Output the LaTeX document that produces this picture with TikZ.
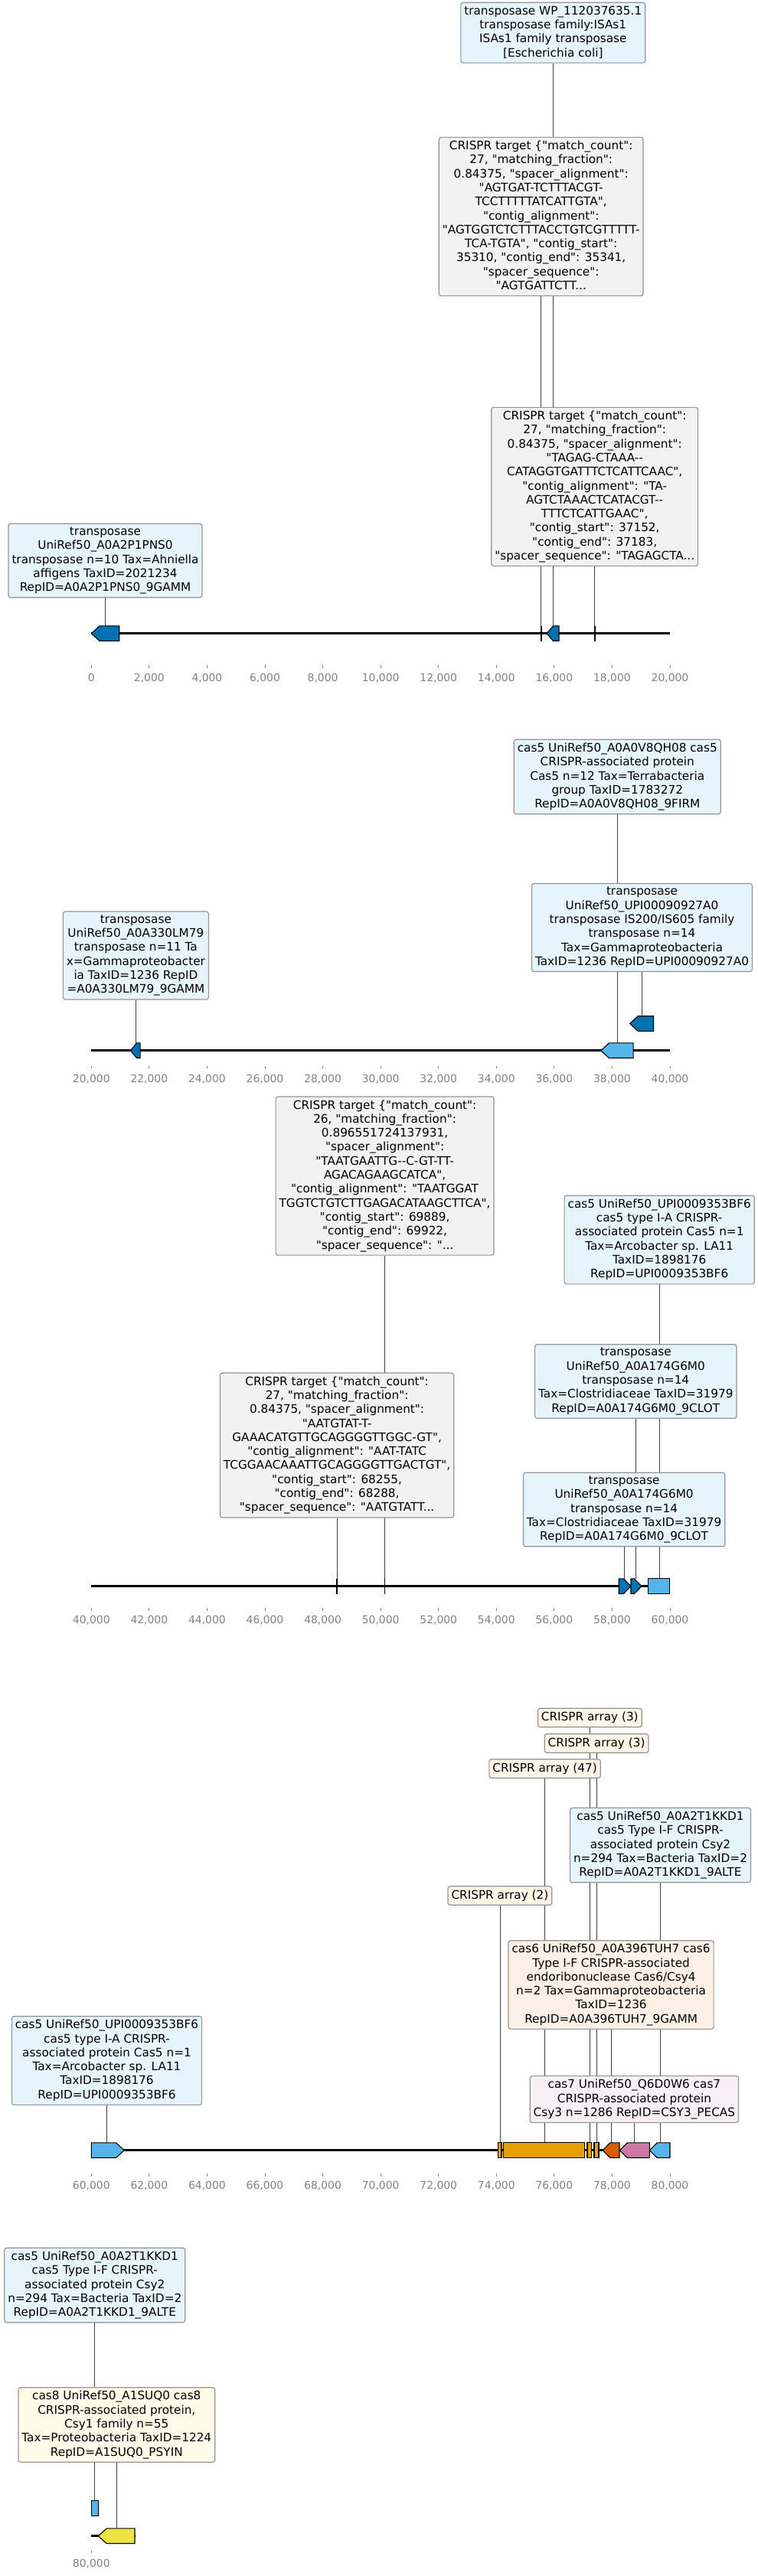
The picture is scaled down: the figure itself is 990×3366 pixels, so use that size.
\documentclass[tikz,border=0pt]{standalone}
\usepackage{fontspec}
\setmainfont{DejaVu Sans}[Ligatures=TeXOff]
\pgfdeclarelayer{bg}
\pgfsetlayers{bg,main}
\definecolor{dkblue}{HTML}{0072B2}
\definecolor{ltblue}{HTML}{56B4E9}
\definecolor{orng}{HTML}{E69F00}
\definecolor{vermil}{HTML}{D55E00}
\definecolor{rpink}{HTML}{CC79A7}
\definecolor{ylw}{HTML}{F0E442}
\definecolor{bxblue}{HTML}{E6F4FC}
\definecolor{bxgray}{HTML}{F2F2F2}
\definecolor{bxcream}{HTML}{FDF5E5}
\definecolor{bxpeach}{HTML}{FDF0E6}
\definecolor{bxpink}{HTML}{F9F0F5}
\definecolor{bxyel}{HTML}{FDFCE8}
\definecolor{tickgray}{HTML}{808080}
\newcommand\lblfont{\fontsize{15.28}{18.3}\selectfont}
\newcommand\tckfont{\fontsize{13.9}{16}\selectfont}
\newcommand\lblstrut{\vrule width 0pt height 11.9pt depth 3.6pt\relax}
\tikzset{
  box/.style={draw=black!42, line width=1.2pt, rounded corners=3pt, align=center,
    inner xsep=4.5pt, inner ysep=4.5pt, font=\lblfont,
    execute at begin node=\lblstrut, execute at end node=\lblstrut},
  conn/.style={draw=black!75, line width=0.8pt},
  feat/.style={draw=black, line width=1.1pt, line join=miter},
  axisline/.style={draw=black, line width=2.5pt},
  crt/.style={draw=black, line width=1.6pt},
  tck/.style={draw=tickgray, line width=0.8pt},
  ticklab/.style={font=\tckfont, text=tickgray, text height=10.1pt, text depth=0pt, inner sep=0pt}
}
\newcommand\LArr[5]{\draw[feat,fill=#5] (#1,#3) -- (#1+#4,#3-9.8) -- (#2,#3-9.8) -- (#2,#3+9.8) -- (#1+#4,#3+9.8) -- cycle;}
\newcommand\RArr[5]{\draw[feat,fill=#5] (#2,#3) -- (#2-#4,#3-9.8) -- (#1,#3-9.8) -- (#1,#3+9.8) -- (#2-#4,#3+9.8) -- cycle;}
\newcommand\FRect[4]{\draw[feat,fill=#4] (#1,#3-9.8) rectangle (#2,#3+9.8);}
\newcommand\AxisTicks[4]{% tick y, label y, base thousands, name prefix
  \foreach \i in {0,...,10}{%
    \pgfmathtruncatemacro\th{#3+2*\i}%
    \draw[tck] (119.3+75.57*\i,#1) -- ++(0,3.5);
    \node[ticklab] (#4\i) at (119.3+75.57*\i,#2) {\ifnum\th=0 0\else\th,000\fi};
  }}
\begin{document}
\begin{tikzpicture}[x=1pt,y=-1pt]
\useasboundingbox (0,0) rectangle (990,3366);

% ================= Panel 1 =================
\draw[axisline] (119.3,827.7) -- (875,827.7);
\LArr{119.3}{155.7}{827.7}{10.7}{dkblue}
\LArr{714}{730}{827.7}{8.5}{dkblue}
\draw[crt] (706.7,817.9) -- (706.7,837.5);
\draw[crt] (776.7,817.9) -- (776.7,837.5);
\coordinate (fA4) at (137.5,818);
\coordinate (fA1) at (722.3,818);
\coordinate (fA2) at (706.7,818);
\coordinate (fA3) at (776.7,818);
\AxisTicks{869}{885}{0}{ta}

\node[box,fill=bxblue] (A1) at (722.3,42.7) {transposase WP\_112037635.1\\transposase family:ISAs1\\ISAs1 family transposase\\{}[Escherichia coli]};
\node[box,fill=bxgray] (A2) at (706.7,283) {CRISPR target \{"match\_count":\\27, "matching\_fraction":\\0.84375, "spacer\_alignment":\\"AGTGAT-TCTTTACGT-\\TCCTTTTTATCATTGTA",\\"contig\_alignment":\\"AGTGGTCTCTTTACCTGTCGTTTTT-\\TCA-TGTA", "contig\_start":\\35310, "contig\_end": 35341,\\"spacer\_sequence":\\"AGTGATTCTT...};
\node[box,fill=bxgray] (A3) at (776.7,636) {CRISPR target \{"match\_count":\\27, "matching\_fraction":\\0.84375, "spacer\_alignment":\\"TAGAG-CTAAA--\\CATAGGTGATTTCTCATTCAAC",\\"contig\_alignment": "TA-\\AGTCTAAACTCATACGT--\\TTTCTCATTGAAC",\\"contig\_start": 37152,\\"contig\_end": 37183,\\"spacer\_sequence": "TAGAGCTA...};
\node[box,fill=bxblue] (A4) at (137.5,732.5) {transposase\\UniRef50\_A0A2P1PNS0\\transposase n=10 Tax=Ahniella\\affigens TaxID=2021234\\RepID=A0A2P1PNS0\_9GAMM};

% ================= Panel 2 =================
\draw[axisline] (119.3,1372.7) -- (875,1372.7);
\LArr{170.5}{183.1}{1372.7}{8}{dkblue}
\LArr{784.8}{827.1}{1372.7}{10.7}{ltblue}
\LArr{822.7}{853.6}{1337.5}{10.5}{dkblue}
\coordinate (fB3) at (177.4,1363);
\coordinate (fB1) at (806.3,1363);
\coordinate (fB2) at (838.5,1328);
\AxisTicks{1392.7}{1409.3}{20}{tb}

\node[box,fill=bxblue] (B1) at (806.3,1015) {cas5 UniRef50\_A0A0V8QH08 cas5\\CRISPR-associated protein\\Cas5 n=12 Tax=Terrabacteria\\group TaxID=1783272\\RepID=A0A0V8QH08\_9FIRM};
\node[box,fill=bxblue] (B2) at (838.5,1212) {transposase\\UniRef50\_UPI00090927A0\\transposase IS200/IS605 family\\transposase n=14\\Tax=Gammaproteobacteria\\TaxID=1236 RepID=UPI00090927A0};
\node[box,fill=bxblue] (B3) at (177.4,1248.5) {transposase\\UniRef50\_A0A330LM79\\transposase n=11 Ta\\x=Gammaproteobacter\\ia TaxID=1236 RepID\\=A0A330LM79\_9GAMM};

% ================= Panel 3 =================
\draw[axisline] (119.3,2072.7) -- (875,2072.7);
\RArr{808.2}{824}{2072.7}{9.5}{dkblue}
\RArr{824}{837.9}{2072.7}{9.5}{dkblue}
\FRect{846.7}{874.5}{2072.7}{ltblue}
\draw[crt] (440.1,2062.9) -- (440.1,2082.5);
\draw[crt] (502.6,2062.9) -- (502.6,2082.5);
\coordinate (fC5) at (815.1,2063);
\coordinate (fC3) at (830.3,2063);
\coordinate (fC2) at (861.2,2063);
\coordinate (fC4) at (440.1,2063);
\coordinate (fC1) at (502.6,2063);
\AxisTicks{2101}{2116.7}{40}{tc}

\node[box,fill=bxgray] (C1) at (502.6,1536.5) {CRISPR target \{"match\_count":\\26, "matching\_fraction":\\0.896551724137931,\\"spacer\_alignment":\\"TAATGAATTG--C-GT-TT-\\AGACAGAAGCATCA",\\"contig\_alignment": "TAATGGAT\\TGGTCTGTCTTGAGACATAAGCTTCA",\\"contig\_start": 69889,\\"contig\_end": 69922,\\"spacer\_sequence": "...};
\node[box,fill=bxblue] (C2) at (861.2,1620) {cas5 UniRef50\_UPI0009353BF6\\cas5 type I-A CRISPR-\\associated protein Cas5 n=1\\Tax=Arcobacter sp. LA11\\TaxID=1898176\\RepID=UPI0009353BF6};
\node[box,fill=bxblue] (C3) at (830.3,1805) {transposase\\UniRef50\_A0A174G6M0\\transposase n=14\\Tax=Clostridiaceae TaxID=31979\\RepID=A0A174G6M0\_9CLOT};
\node[box,fill=bxgray] (C4) at (440.1,1888.5) {CRISPR target \{"match\_count":\\27, "matching\_fraction":\\0.84375, "spacer\_alignment":\\"AATGTAT-T-\\GAAACATGTTGCAGGGGTTGGC-GT",\\"contig\_alignment": "AAT-TATC\\TCGGAACAAATTGCAGGGGTTGACTGT",\\"contig\_start": 68255,\\"contig\_end": 68288,\\"spacer\_sequence": "AATGTATT...};
\node[box,fill=bxblue] (C5) at (815.1,1972.5) {transposase\\UniRef50\_A0A174G6M0\\transposase n=14\\Tax=Clostridiaceae TaxID=31979\\RepID=A0A174G6M0\_9CLOT};

% ================= Panel 4 =================
\draw[axisline] (119.3,2809.7) -- (875,2809.7);
\RArr{119.3}{162.3}{2809.7}{10.7}{ltblue}
\FRect{650.7}{655}{2809.7}{orng}
\FRect{657.7}{763.7}{2809.7}{orng}
\FRect{767}{772.7}{2809.7}{orng}
\FRect{776}{782}{2809.7}{orng}
\LArr{787.3}{809}{2809.7}{9.4}{vermil}
\LArr{809.3}{848.3}{2809.7}{10}{rpink}
\LArr{848.3}{875}{2809.7}{10}{ltblue}
\coordinate (fD8) at (139.5,2800);
\coordinate (fD5) at (652.9,2800);
\coordinate (fD3) at (711.6,2800);
\coordinate (fD1) at (770.3,2800);
\coordinate (fD2) at (779.1,2800);
\coordinate (fD6) at (798.1,2800);
\coordinate (fD7) at (828.4,2800);
\coordinate (fD4) at (862.5,2800);
\AxisTicks{2840}{2855}{60}{td}

\node[box,fill=bxcream] (D1) at (770.3,2244.5) {CRISPR array (3)};
\node[box,fill=bxcream] (D2) at (779.1,2278) {CRISPR array (3)};
\node[box,fill=bxcream] (D3) at (711.6,2311) {CRISPR array (47)};
\node[box,fill=bxblue] (D4) at (862.5,2411) {cas5 UniRef50\_A0A2T1KKD1\\cas5 Type I-F CRISPR-\\associated protein Csy2\\n=294 Tax=Bacteria TaxID=2\\RepID=A0A2T1KKD1\_9ALTE};
\node[box,fill=bxcream] (D5) at (652.9,2477) {CRISPR array (2)};
\node[box,fill=bxpeach] (D6) at (798.1,2593.5) {cas6 UniRef50\_A0A396TUH7 cas6\\Type I-F CRISPR-associated\\endoribonuclease Cas6/Csy4\\n=2 Tax=Gammaproteobacteria\\TaxID=1236\\RepID=A0A396TUH7\_9GAMM};
\node[box,fill=bxpink] (D7) at (828.4,2743) {cas7 UniRef50\_Q6D0W6 cas7\\CRISPR-associated protein\\Csy3 n=1286 RepID=CSY3\_PECAS};
\node[box,fill=bxblue] (D8) at (139.5,2692.5) {cas5 UniRef50\_UPI0009353BF6\\cas5 type I-A CRISPR-\\associated protein Cas5 n=1\\Tax=Arcobacter sp. LA11\\TaxID=1898176\\RepID=UPI0009353BF6};

% ================= Panel 5 =================
\draw[axisline] (119.3,3313.7) -- (177,3313.7);
\FRect{119.3}{128.3}{3277.3}{ltblue}
\LArr{128.3}{176}{3313.7}{11}{ylw}
\coordinate (fE1) at (123.8,3267.5);
\coordinate (fE2) at (152.3,3304);
\draw[tck] (119.3,3332.7) -- ++(0,3.5);
\node[ticklab] (te0) at (119.3,3349) {80,000};

\node[box,fill=bxblue] (E1) at (123.8,2986) {cas5 UniRef50\_A0A2T1KKD1\\cas5 Type I-F CRISPR-\\associated protein Csy2\\n=294 Tax=Bacteria TaxID=2\\RepID=A0A2T1KKD1\_9ALTE};
\node[box,fill=bxyel] (E2) at (152.3,3168.5) {cas8 UniRef50\_A1SUQ0 cas8\\CRISPR-associated protein,\\Csy1 family n=55\\Tax=Proteobacteria TaxID=1224\\RepID=A1SUQ0\_PSYIN};

% ================= connectors =================
\begin{pgfonlayer}{bg}
\foreach \n in {A1,A2,A3,A4,B1,B2,B3,C1,C2,C3,C4,C5,D1,D2,D3,D4,D5,D6,D7,D8,E1,E2}
  \draw[conn] (\n) -- (f\n);
\end{pgfonlayer}
\end{tikzpicture}
\end{document}
